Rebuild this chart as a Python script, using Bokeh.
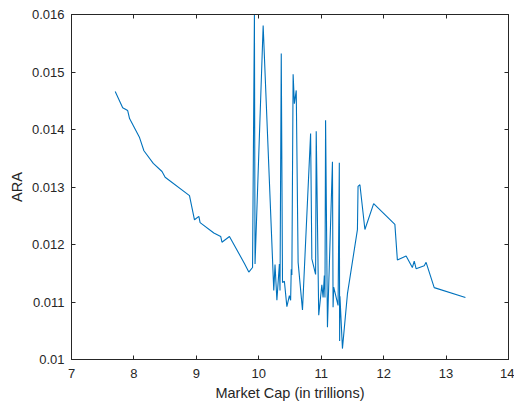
from bokeh.plotting import figure
from bokeh.models import LinearAxis, FixedTicker, Range1d, CustomJSTickFormatter
from bokeh.embed import file_html
from bokeh.resources import INLINE

market_cap = [7.70, 7.82, 7.90, 7.93, 8.09, 8.16, 8.31, 8.45, 8.50, 8.89,
              8.97, 9.04, 9.06, 9.28, 9.39, 9.41, 9.53, 9.77, 9.84, 9.90,
              9.93, 9.94, 10.07, 10.24, 10.26, 10.29, 10.33, 10.34, 10.36, 10.38,
              10.41, 10.45, 10.49, 10.51, 10.52, 10.53, 10.55, 10.57, 10.60, 10.63,
              10.70, 10.83, 10.85, 10.91, 10.92, 10.96, 11.01, 11.03, 11.05, 11.06,
              11.07, 11.10, 11.18, 11.19, 11.20, 11.27, 11.29, 11.295, 11.30, 11.34,
              11.42, 11.58, 11.59, 11.62, 11.70, 11.84, 12.18, 12.22, 12.36, 12.46,
              12.49, 12.52, 12.65, 12.68, 12.81, 13.31]
ara = [0.01466, 0.01438, 0.01433, 0.01419, 0.01386, 0.01363, 0.01341, 0.01327, 0.01317, 0.01285,
       0.01243, 0.01249, 0.01238, 0.01220, 0.01214, 0.01204, 0.01214, 0.01167, 0.01152, 0.01160,
       0.01600, 0.01166, 0.01581, 0.01120, 0.01165, 0.01103, 0.01166, 0.01120, 0.01532, 0.01134,
       0.01136, 0.01092, 0.01111, 0.01103, 0.01157, 0.01147, 0.01496, 0.01445, 0.01468, 0.01169,
       0.01086, 0.01393, 0.01175, 0.01148, 0.01397, 0.01077, 0.01130, 0.01108, 0.01146, 0.01108,
       0.01416, 0.01056, 0.01344, 0.01091, 0.01126, 0.01094, 0.01342, 0.01032, 0.01110, 0.01019,
       0.01114, 0.01226, 0.01301, 0.01304, 0.01226, 0.01271, 0.01235, 0.01173, 0.01180, 0.01160,
       0.01171, 0.01158, 0.01163, 0.01169, 0.01125, 0.01108]

x_ticks = [7, 8, 9, 10, 11, 12, 13, 14]
y_ticks = [0.010, 0.011, 0.012, 0.013, 0.014, 0.015, 0.016]

FONT = "Liberation Sans"
AX = "#262626"

p = figure(width=514, height=405, x_range=Range1d(7, 14), y_range=Range1d(0.010, 0.016),
           output_backend="svg", toolbar_location=None,
           min_border_left=71, min_border_right=6, min_border_top=14, min_border_bottom=46)
p.xgrid.visible = False
p.ygrid.visible = False
p.outline_line_color = AX
p.outline_line_width = 1
p.background_fill_color = "white"

p.line(market_cap, ara, line_color="#0072BD", line_width=1.1)

yfmt = CustomJSTickFormatter(code="return tick.toFixed(3).replace(/0+$/, '');")


def style(ax, ticks, labels=True):
    ax.ticker = FixedTicker(ticks=ticks)
    ax.axis_line_color = AX
    ax.major_tick_line_color = AX
    ax.major_tick_in = 4
    ax.major_tick_out = 0
    ax.minor_tick_line_color = None
    ax.major_label_text_font = FONT
    ax.major_label_text_color = AX
    ax.major_label_text_font_size = "13px"
    ax.axis_label_text_font = FONT
    ax.axis_label_text_color = AX
    ax.axis_label_text_font_style = "normal"
    ax.axis_label_text_font_size = "14.5px"
    if not labels:
        ax.major_label_text_font_size = "0px"
        ax.major_label_standoff = 0
        ax.axis_label_standoff = 0
        ax.major_label_text_color = None


style(p.xaxis[0], x_ticks)
p.xaxis[0].major_label_standoff = 9
p.xaxis[0].axis_label = "Market Cap (in trillions)"
p.xaxis[0].axis_label_standoff = 4

style(p.yaxis[0], y_ticks)
p.yaxis[0].formatter = yfmt
p.yaxis[0].major_label_standoff = 7
p.yaxis[0].axis_label = "ARA"
p.yaxis[0].axis_label_standoff = 4

top = LinearAxis()
style(top, x_ticks, labels=False)
p.add_layout(top, "above")
right = LinearAxis()
style(right, y_ticks, labels=False)
p.add_layout(right, "right")

open("out.html", "w").write(file_html(p, INLINE))
